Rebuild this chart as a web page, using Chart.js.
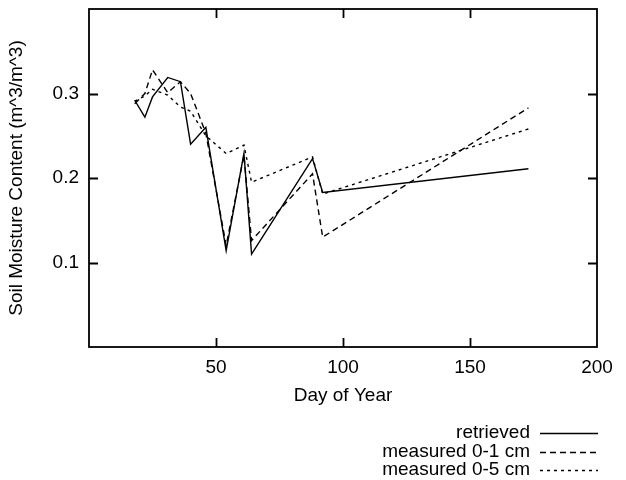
<!DOCTYPE html>
<html>
<head>
<meta charset="utf-8">
<script src="https://cdn.jsdelivr.net/npm/chart.js@4/dist/chart.umd.min.js"></script>
<style>
  html, body { margin: 0; padding: 0; background: #fff; }
  #wrap { width: 626px; height: 480px; }
</style>
</head>
<body>
<div id="wrap"><canvas id="chart" width="626" height="480"></canvas></div>
<script>
// day of year for each observation
var days = [18, 22, 25, 31, 36, 40, 46, 54, 61, 64, 88, 92, 173];
// soil moisture (m^3/m^3)
var retrieved  = [0.292, 0.272, 0.296, 0.319, 0.314, 0.240, 0.260, 0.114, 0.229, 0.110, 0.223, 0.183, 0.211];
var measured01 = [0.288, 0.300, 0.328, 0.301, 0.314, 0.300, 0.253, 0.120, 0.227, 0.126, 0.205, 0.130, 0.283];
var measured05 = [0.291, 0.297, 0.305, 0.298, 0.284, 0.279, 0.250, 0.229, 0.239, 0.195, 0.225, 0.181, 0.258];

var seriesNames = ['retrieved', 'measured 0-1 cm', 'measured 0-5 cm'];
var xTicks = [50, 100, 150];
var yTicks = [0.1, 0.2, 0.3];

var FONT = 'Liberation Sans, Arial, Helvetica, sans-serif';
var dashes = [[], [6, 4], [3, 4]];

function toPoints(ys) {
  return days.map(function (d, i) { return { x: d, y: ys[i] }; });
}

// gnuplot style frame with inward ticks on all four sides
var framePlugin = {
  id: 'frame',
  afterDatasetsDraw: function (chart) {
    var ctx = chart.ctx, a = chart.chartArea;
    var sx = chart.scales.x, sy = chart.scales.y;
    var tl = 9;
    ctx.save();
    ctx.strokeStyle = '#000';
    ctx.lineWidth = 1.8;
    ctx.setLineDash([]);
    ctx.strokeRect(a.left, a.top, a.right - a.left, a.bottom - a.top);
    ctx.beginPath();
    xTicks.forEach(function (v) {
      var px = Math.round(sx.getPixelForValue(v)) + 0.5;
      ctx.moveTo(px, a.bottom); ctx.lineTo(px, a.bottom - tl);
      ctx.moveTo(px, a.top); ctx.lineTo(px, a.top + tl);
    });
    yTicks.forEach(function (v) {
      var py = Math.round(sy.getPixelForValue(v)) + 0.5;
      ctx.moveTo(a.left, py); ctx.lineTo(a.left + tl, py);
      ctx.moveTo(a.right, py); ctx.lineTo(a.right - tl, py);
    });
    ctx.stroke();
    ctx.restore();
  }
};

// key in the lower right corner, text then a line sample
var keyPlugin = {
  id: 'key',
  afterDraw: function (chart) {
    var ctx = chart.ctx;
    var textRight = 530, lineLeft = 540, lineRight = 598;
    var rows = [433, 452, 470];
    ctx.save();
    ctx.font = '19px ' + FONT;
    ctx.fillStyle = '#000';
    ctx.textAlign = 'right';
    ctx.textBaseline = 'middle';
    chart.data.datasets.forEach(function (ds, i) {
      ctx.fillText(ds.label, textRight, rows[i]);
      ctx.beginPath();
      ctx.lineWidth = 1.4;
      ctx.strokeStyle = '#000';
      ctx.setLineDash(ds.borderDash);
      ctx.moveTo(lineLeft, rows[i] + 0.5);
      ctx.lineTo(lineRight, rows[i] + 0.5);
      ctx.stroke();
    });
    ctx.restore();
  }
};

var datasets = [retrieved, measured01, measured05].map(function (ys, i) {
  return {
    label: seriesNames[i],
    data: toPoints(ys),
    showLine: true,
    borderColor: '#000',
    backgroundColor: '#000',
    borderWidth: 1.4,
    borderDash: dashes[i],
    pointRadius: 0,
    tension: 0,
    fill: false
  };
});

new Chart(document.getElementById('chart').getContext('2d'), {
  type: 'scatter',
  data: { datasets: datasets },
  options: {
    responsive: false,
    animation: false,
    layout: { padding: { top: 9, right: 29, left: 0, bottom: 73 } },
    plugins: { legend: { display: false }, tooltip: { enabled: false } },
    scales: {
      x: {
        type: 'linear', min: 0, max: 200,
        afterFit: function (s) { s.height = 60; },
        grid: { display: false, drawTicks: false },
        border: { display: false },
        ticks: {
          stepSize: 50, padding: 9, color: '#000', maxRotation: 0,
          font: { family: FONT, size: 19 },
          callback: function (v) { return v === 0 ? '' : v; }
        },
        title: {
          display: true, text: 'Day of Year', color: '#000',
          font: { family: FONT, size: 19 }, padding: { top: 0, bottom: 0 }
        }
      },
      y: {
        type: 'linear', min: 0, max: 0.4,
        afterFit: function (s) { s.width = 89; s.paddingTop = 0; s.paddingBottom = 0; },
        grid: { display: false, drawTicks: false },
        border: { display: false },
        ticks: {
          stepSize: 0.1, padding: 10, color: '#000',
          font: { family: FONT, size: 19 },
          callback: function (v) {
            var t = v.toFixed(1);
            return (t === '0.0' || t === '0.4') ? '' : t;
          }
        },
        title: {
          display: true, text: 'Soil Moisture Content (m^3/m^3)', color: '#000',
          font: { family: FONT, size: 19 }, padding: { top: 5, bottom: 0 }
        }
      }
    }
  },
  plugins: [framePlugin, keyPlugin]
});
</script>
</body>
</html>
